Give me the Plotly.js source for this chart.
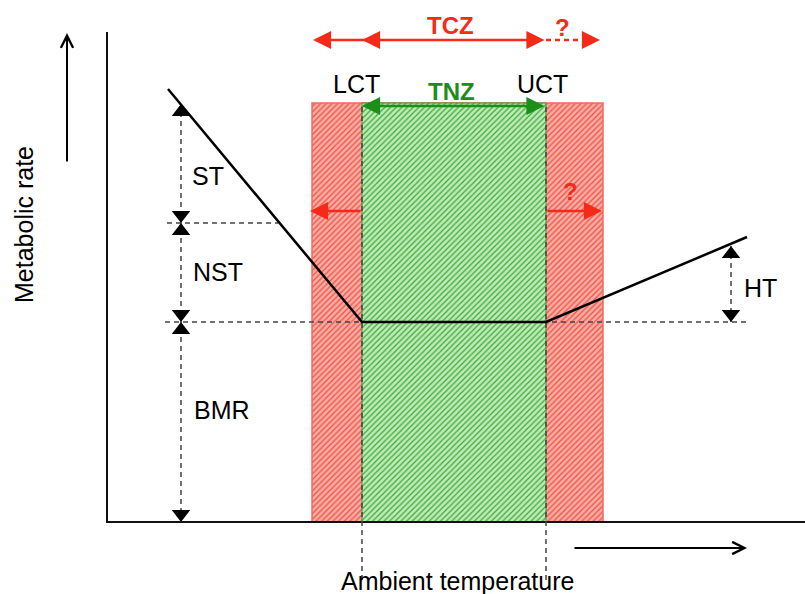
<!DOCTYPE html>
<html><head><meta charset="utf-8">
<script src="https://cdn.plot.ly/plotly-3.0.1.min.js"></script>
<style>html,body{margin:0;padding:0;background:#fff}</style>
</head><body><div id="chart" style="width:805px;height:594px"></div>
<script>
// Schematic units: x = ambient temperature (arbitrary), y = metabolic rate (arbitrary)
const axisX = [0, 698];
const axisY = [0, 490];
const zoneEdges = [205, 255, 439, 496];   // TCZ left, LCT, UCT, TCZ right
const zoneTop = 419;
const rateX = [61, 255, 439, 640];
const rateY = [433, 200, 200, 285];
const bmrLevel = 200;
const nstLevel = 299;
const stTop = 418;
const htTop = 276;
const dimX = 74;
const htX = 624;
const bmrGuideX = [58, 640];
const nstGuideX = [60, 171];
const vGuideY = [-58, 419];
const tczY = 482;
const tczX = [206, 255, 439, 493];
const limitY = 311;
const limitX = [203, 495];
const tnzY = 416;
const tempArrowX = [466, 640];
const tempArrowY = -26;
const rateArrowX = -40;
const rateArrowY = [359, 489];
const labelText = ['ST', 'NST', 'BMR', 'HT'];
const labelX = [83, 84, 85, 635];
const labelY = [346, 250, 112, 234];
const topText = ['LCT', 'UCT'];
const topTextX = [249, 435];
const topTextY = 438;

const FONT = 'Liberation Sans, Arial, sans-serif';
const RED = '#f52a18';
const GREEN = '#1a8f1a';
const GRAY = '#444';
const mkSize = 16;
const mk = mkSize / 2; // tip offset (data units == px)

const traces = [];
// zones
traces.push({type:'bar', x:[(zoneEdges[0]+zoneEdges[3])/2], width:[zoneEdges[3]-zoneEdges[0]], y:[zoneTop], base:[0],
  marker:{color:'#f8aaa2', line:{color:'#f26a5c', width:1.5},
    pattern:{shape:'/', bgcolor:'#f8aca4', fgcolor:'#ee5042', size:4, solidity:0.3}}, hoverinfo:'skip'});
traces.push({type:'bar', x:[(zoneEdges[1]+zoneEdges[2])/2], width:[zoneEdges[2]-zoneEdges[1]], y:[zoneTop], base:[0],
  marker:{color:'#bdeab4', line:{color:'#2f9a2f', width:1},
    pattern:{shape:'/', bgcolor:'#c0ebb7', fgcolor:'#3aa83a', size:4, solidity:0.3}}, hoverinfo:'skip'});
// axes
traces.push({type:'scatter', mode:'lines', x:[axisX[0], axisX[0], axisX[1]], y:[axisY[1], axisY[0], axisY[0]],
  line:{color:'#111', width:2}});
// dashed guides
const dash = {color:GRAY, width:1.5, dash:'5px,4px'};
traces.push({type:'scatter', mode:'lines', x:bmrGuideX, y:[bmrLevel, bmrLevel], line:dash});
traces.push({type:'scatter', mode:'lines', x:nstGuideX, y:[nstLevel, nstLevel], line:dash});
traces.push({type:'scatter', mode:'lines', x:[zoneEdges[1], zoneEdges[1]], y:vGuideY, line:dash});
traces.push({type:'scatter', mode:'lines', x:[zoneEdges[2], zoneEdges[2]], y:vGuideY, line:dash});
traces.push({type:'scatter', mode:'lines', x:[dimX, dimX], y:[0, stTop], line:dash});
traces.push({type:'scatter', mode:'lines', x:[htX, htX], y:[bmrLevel, htTop], line:dash});
traces.push({type:'scatter', mode:'lines', x:[tczX[2], tczX[3]-8], y:[tczY, tczY], line:{color:RED, width:2.5, dash:'5px,4px'}});
// metabolic rate curve
traces.push({type:'scatter', mode:'lines', x:rateX, y:rateY, line:{color:'#000', width:2.5}});
// dimension arrow heads
const upTips = [stTop, nstLevel, bmrLevel, htTop];
const upX = [dimX, dimX, dimX, htX];
const downTips = [nstLevel, bmrLevel, 0, bmrLevel];
const downX = [dimX, dimX, dimX, htX];
traces.push({type:'scatter', mode:'markers', x:upX, y:upTips.map(v => v - mk),
  marker:{symbol:'triangle-up', size:mkSize, color:'#000'}, cliponaxis:false});
traces.push({type:'scatter', mode:'markers', x:downX, y:downTips.map(v => v + mk),
  marker:{symbol:'triangle-down', size:mkSize, color:'#000'}, cliponaxis:false});

function arrow(x, y, ax, ay, color, w, head, size, both) {
  const a = {x:x, y:y, ax:ax, ay:ay, xref:'x', yref:'y', axref:'x', ayref:'y', text:'', showarrow:true,
    arrowhead:head, arrowsize:size, arrowwidth:w, arrowcolor:color, standoff:0, startstandoff:0};
  if (both) { a.arrowside = 'end+start'; a.startarrowhead = head; a.startarrowsize = size; }
  return a;
}
function label(text, x, y, opts) {
  return Object.assign({x:x, y:y, xref:'x', yref:'y', text:text, showarrow:false,
    font:{family:FONT, size:25, color:'#000'}, xanchor:'center', yanchor:'middle'}, opts || {});
}
const ann = [];
const hs = 1.45;
ann.push(arrow(tczX[0], tczY, tczX[2], tczY, RED, 2.5, 2, hs, true));
ann.push(arrow(tczX[1], tczY, tczX[1] + 20, tczY, RED, 2.5, 2, hs, false));
ann.push(arrow(tczX[3], tczY, tczX[3] - 12, tczY, RED, 2.5, 2, hs, false));
ann.push(arrow(limitX[0], limitY, zoneEdges[1], limitY, RED, 2.5, 2, hs, false));
ann.push(arrow(limitX[1], limitY, zoneEdges[2], limitY, RED, 2.5, 2, hs, false));
ann.push(arrow(zoneEdges[1], tnzY, zoneEdges[2], tnzY, GREEN, 2.5, 2, hs, true));
ann.push(arrow(rateArrowX, rateArrowY[1], rateArrowX, rateArrowY[0], '#000', 2, 5, 1.2, false));
ann.push(arrow(tempArrowX[1], tempArrowY, tempArrowX[0], tempArrowY, '#000', 2, 5, 1.2, false));
for (let i = 0; i < labelText.length; i++) ann.push(label(labelText[i], labelX[i], labelY[i], {xanchor:'left'}));
for (let i = 0; i < topText.length; i++) ann.push(label(topText[i], topTextX[i], topTextY));
ann.push(label('<b>TCZ</b>', 343, 497, {font:{family:FONT, size:24, color:RED}}));
ann.push(label('<b>?</b>', 455, 495, {font:{family:FONT, size:24, color:RED}}));
ann.push(label('<b>?</b>', 463, 331, {font:{family:FONT, size:24, color:RED}}));
ann.push(label('<b>TNZ</b>', 344, 431, {font:{family:FONT, size:24, color:GREEN}}));
ann.push(label('Ambient temperature', 350, -59, {font:{family:FONT, size:25, color:'#000'}}));
ann.push(label('Metabolic rate', -83, 297, {textangle:-90, font:{family:FONT, size:25, color:'#000'}}));

const layout = {
  width:805, height:594, margin:{l:0, r:0, t:0, b:0},
  paper_bgcolor:'#fff', plot_bgcolor:'#fff', showlegend:false, hovermode:false,
  barmode:'overlay', bargap:0,
  xaxis:{range:[-107, 698], visible:false, fixedrange:true},
  yaxis:{range:[-72, 522], visible:false, fixedrange:true},
  annotations:ann
};
Plotly.newPlot('chart', traces, layout, {displayModeBar:false, staticPlot:true});
</script></body></html>
